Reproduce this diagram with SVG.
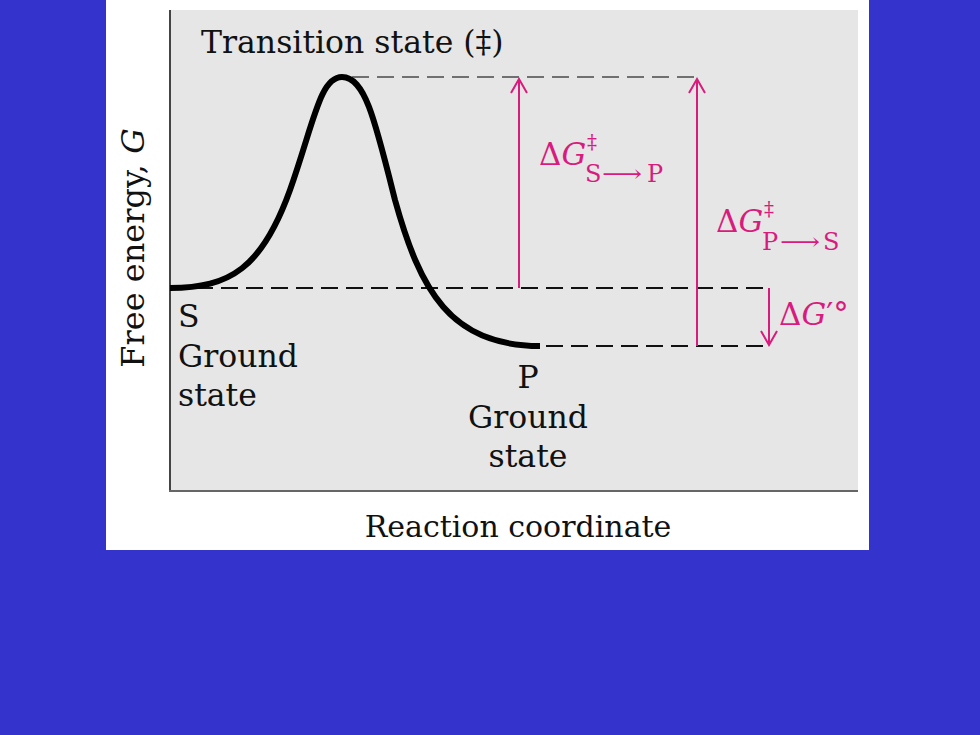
<svg xmlns="http://www.w3.org/2000/svg" width="980" height="735" viewBox="0 0 980 735">
<style>
.t{font-family:"DejaVu Serif","Liberation Serif",serif;fill:#111}
.m{font-size:31.5px}
.pk{font-family:"DejaVu Serif","DejaVu Sans","Liberation Serif",serif;fill:#D81B7D}
.pl{stroke:#D81B7D;stroke-width:2;fill:none}
.dash{stroke:#111;stroke-width:1.8;stroke-dasharray:17 8;fill:none}
</style>
<rect x="0" y="0" width="980" height="735" fill="#3434CC"/>
<rect x="106" y="0" width="763" height="550" fill="#FFFFFF"/>
<rect x="170" y="10" width="688" height="481" fill="#E6E6E6"/>
<g id="axes">
<line x1="170" y1="10" x2="170" y2="492" stroke="#444" stroke-width="2"/>
<line x1="169" y1="491" x2="858" y2="491" stroke="#666" stroke-width="2"/>
</g>
<g id="guides">
<line x1="352" y1="77" x2="697" y2="77" stroke="#707070" stroke-width="2" stroke-dasharray="17 8"/>
<line class="dash" x1="196" y1="288" x2="769" y2="288"/>
<line class="dash" x1="546" y1="346" x2="769" y2="346"/>
</g>
<g id="curve">
<path d="M170,288 C230,288 262,268 290,190 C314,122 320,77 342,77 C365,77 375,120 395,200 C420,290 450,346 540,346" fill="none" stroke="#000" stroke-width="6"/>
</g>
<g id="connectors">
<path class="pl" d="M519,288 V79 M511,93 L519,79 L527,93"/>
<path class="pl" d="M697,346 V79 M689,93 L697,79 L705,93"/>
<path class="pl" d="M769,288 V345 M761,331 L769,345 L777,331"/>
</g>
<g id="labels">
<text class="t" x="201" y="53" style="font-size:31.5px">Transition state (‡)</text>
<text class="t" transform="translate(144,248) rotate(-90)" text-anchor="middle" style="font-size:32px">Free energy, <tspan font-style="italic">G</tspan></text>
<text class="t m" x="178" y="327">S</text>
<text class="t m" x="178" y="367">Ground</text>
<text class="t m" x="178" y="406">state</text>
<text class="t m" x="528" y="388" text-anchor="middle">P</text>
<text class="t m" x="528" y="428" text-anchor="middle">Ground</text>
<text class="t m" x="528" y="467" text-anchor="middle">state</text>
<text class="t" x="518" y="537" text-anchor="middle" style="font-size:30px">Reaction coordinate</text>
</g>
<g id="dg-sp">
<text class="pk" x="539" y="165" font-size="31">Δ<tspan font-style="italic">G</tspan></text>
<text class="pk" x="587" y="149" font-size="20">‡</text>
<text class="pk" x="585" y="182" font-size="24">S</text>
<text class="pk" x="602" y="182" font-size="24" textLength="40" lengthAdjust="spacingAndGlyphs">⟶</text>
<text class="pk" x="647" y="182" font-size="24">P</text>
</g>
<g id="dg-ps">
<text class="pk" x="716" y="232" font-size="31">Δ<tspan font-style="italic">G</tspan></text>
<text class="pk" x="764" y="216" font-size="20">‡</text>
<text class="pk" x="762" y="250" font-size="24">P</text>
<text class="pk" x="780" y="250" font-size="24" textLength="40" lengthAdjust="spacingAndGlyphs">⟶</text>
<text class="pk" x="823" y="250" font-size="24">S</text>
</g>
<g id="dg-std">
<text class="pk" x="779" y="325" font-size="31">Δ<tspan font-style="italic">G</tspan>′°</text>
</g>
</svg>
